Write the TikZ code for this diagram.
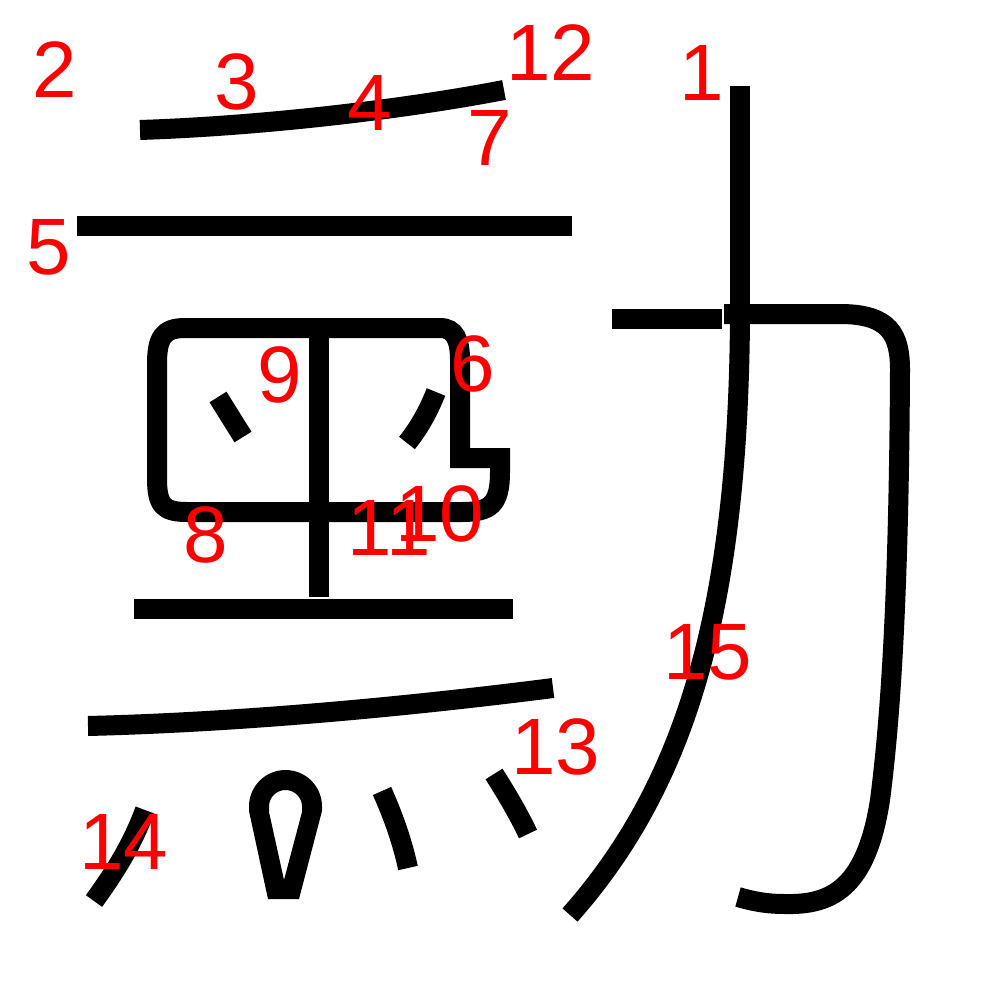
\documentclass[tikz,border=0pt]{standalone}
\usepackage{fontspec}
\setmainfont{Liberation Sans}
\begin{document}
\begin{tikzpicture}[x=1pt,y=-1pt,
  kstroke/.style={draw=black, line width=20pt, line cap=butt, line join=miter},
  lbl/.style={text=red, inner sep=0pt, font=\fontsize{80}{80}\selectfont}]
\useasboundingbox (0,0) rectangle (1000,1000);
% top strokes
\draw[kstroke] (140,130) .. controls (260,126) and (400,110) .. (504,90);
\draw[kstroke] (77,226) -- (572,226);
% box
\draw[kstroke] (300,328) -- (440,328) .. controls (455,328) and (460,340) .. (460,360)
  -- (460,458) -- (500,458) -- (500,472) .. controls (500,505) and (490,512) .. (462,512)
  -- (187,512) .. controls (163,512) and (157,505) .. (157,478)
  -- (157,364) .. controls (157,338) and (163,328) .. (185,328) -- (310,328);
\draw[kstroke] (318.5,338) -- (318.5,597);
\draw[kstroke] (218,397) -- (243,437);
\draw[kstroke] (436,392) .. controls (428,412) and (419,428) .. (407,443);
\draw[kstroke] (134,609) -- (513,609);
% lower strokes
\draw[kstroke] (88,726) .. controls (250,722) and (420,705) .. (553,688);
\draw[kstroke] (145,810) .. controls (132,845) and (115,872) .. (94,901);
\fill[black, even odd rule]
  (268,899) -- (249,811) -- (249,806.5) .. controls (249,786.3) and (265.3,770) .. (285.5,770)
  .. controls (305.7,770) and (322,786.3) .. (322,806.5) -- (322,811) -- (299,899) -- cycle
  (284,880) -- (269,812) -- (269,806.5) .. controls (269,797.4) and (276.4,790) .. (285.5,790)
  .. controls (294.6,790) and (302,797.4) .. (302,806.5) -- (302,812) -- cycle;
\draw[kstroke] (382,791) .. controls (395,820) and (403,845) .. (408,868);
\draw[kstroke] (494,774) .. controls (508,796) and (519,815) .. (528,834);
% right component
\draw[kstroke] (740,86) -- (740,330);
\draw[kstroke] (612,319) -- (722,319);
\draw[kstroke] (740,318) .. controls (738,600) and (690,780) .. (570,915);
\draw[kstroke] (724,314) -- (840,314) .. controls (890,314) and (900,335) .. (900,370)
  .. controls (899,560) and (893,700) .. (880,800) .. controls (866,890) and (830,905) .. (785,904)
  .. controls (765,904) and (752,901) .. (738,897);
% labels
\node[lbl] (l1) at (702,73) {1};
\node[lbl] (l2) at (55,70) {2};
\node[lbl] (l3) at (237,82) {3};
\node[lbl] (l4) at (370,103) {4};
\node[lbl] (l5) at (49,247) {5};
\node[lbl] (l6) at (473,364) {6};
\node[lbl] (l7) at (490,138) {7};
\node[lbl] (l8) at (206,535) {8};
\node[lbl] (l9) at (280,375) {9};
\node[lbl] (l11) at (389,528) {11};
\node[lbl] (l10) at (440,514) {10};
\node[lbl] (l12) at (551,53) {12};
\node[lbl] (l13) at (556,747) {13};
\node[lbl] (l14) at (124,842) {14};
\node[lbl] (l15) at (708,652) {15};
\end{tikzpicture}
\end{document}
